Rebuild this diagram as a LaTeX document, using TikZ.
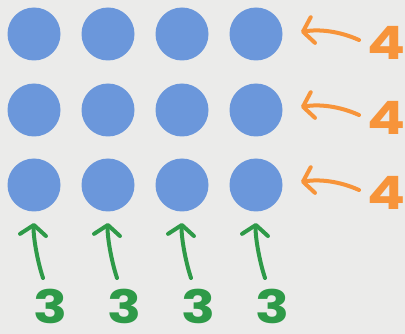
\documentclass[tikz,border=0pt]{standalone}
\usepackage{fontspec}
\newfontfamily\digitfont{Poppins}[UprightFont=* Bold]
\usetikzlibrary{arrows.meta,calc}
\definecolor{bg}{HTML}{EBEBEA}
\definecolor{dotblue}{HTML}{6B97DB}
\definecolor{arrorange}{HTML}{F7943A}
\definecolor{arrgreen}{HTML}{2E9A48}
\tikzset{
  dot/.style={circle, fill=dotblue, minimum size=53pt, inner sep=0pt},
  numlabel/.style={font=\digitfont\fontsize{46}{46}\selectfont, inner sep=0pt, xscale=1.22, transform shape},
  rowarrow/.style={draw=arrorange, line width=4pt, line cap=round, line join=round,
    -{Straight Barb[length=10pt,width=26pt,line cap=round,line join=round]}},
  colarrow/.style={draw=arrgreen, line width=4pt, line cap=round, line join=round,
    -{Straight Barb[length=10pt,width=26pt,line cap=round,line join=round]}},
}
\begin{document}
\begin{tikzpicture}[x=1pt,y=-1pt]
\fill[bg] (0,0) rectangle (405,334);
\useasboundingbox (0,0) rectangle (405,334);
% dots
\foreach \r/\yy in {1/34,2/110,3/185}{
  \foreach \c/\xx in {1/34,2/108,3/182,4/256}{
    \node[dot] (d\r\c) at (\xx,\yy) {};
  }
}
% row labels and arrows
\foreach \r/\yy in {1/0,2/75,3/150}{
  \node[numlabel, text=arrorange] (four\r) at (386,43+\yy) {4};
  \coordinate (rt\r) at (359,40+\yy);
  \coordinate (rh\r) at (301,32+\yy);
  \draw[rowarrow] (rt\r) .. controls ($(rt\r)+(-20,-9)$) and ($(rh\r)+(18,-3)$) .. (rh\r);
}
% column labels and arrows
\foreach \c/\xx in {1/0,2/74,3/148,4/222}{
  \node[numlabel, text=arrgreen] (three\c) at (50+\xx,306) {3};
  \coordinate (ct\c) at (43+\xx,278);
  \coordinate (ch\c) at (34+\xx,223);
  \draw[colarrow] (ct\c) .. controls ($(ct\c)+(-6,-18)$) and ($(ch\c)+(-1,12)$) .. (ch\c);
}
\end{tikzpicture}
\end{document}
